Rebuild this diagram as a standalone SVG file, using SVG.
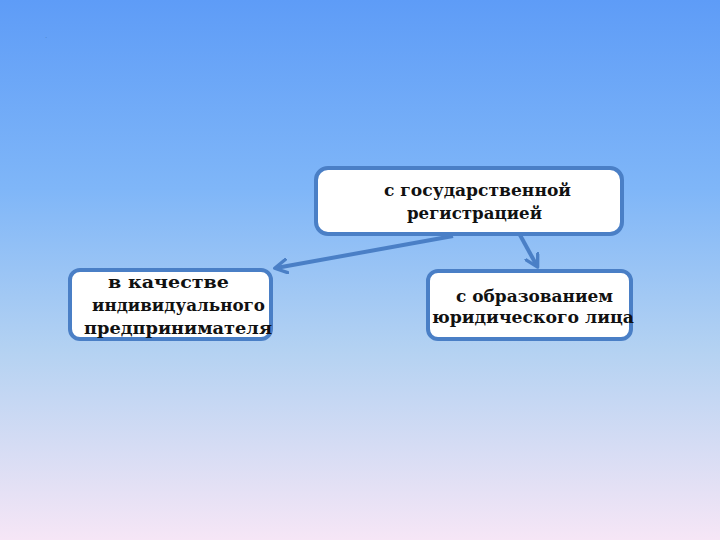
<svg xmlns="http://www.w3.org/2000/svg" width="720" height="540" viewBox="0 0 720 540">
<defs>
<linearGradient id="bg" x1="0" y1="0" x2="0" y2="1">
<stop offset="0" stop-color="#5e9cf7"/>
<stop offset="0.35" stop-color="#7fb6f8"/>
<stop offset="0.65" stop-color="#b4d2f2"/>
<stop offset="1" stop-color="#f6e6f6"/>
</linearGradient>
<marker id="ah" viewBox="0 0 12 12" refX="9" refY="6" markerWidth="4" markerHeight="4" orient="auto" markerUnits="strokeWidth">
<path d="M1,1 L10,6 L1,11" fill="none" stroke="#4a7fc6" stroke-width="2.5" stroke-linecap="round" stroke-linejoin="round"/>
</marker>
<style>
.box{fill:#ffffff;stroke:#4a7fc6;stroke-width:4}
.t{font-family:"DejaVu Serif","Liberation Serif",serif;font-weight:bold;font-size:17px;fill:#111;text-anchor:middle}
.c{stroke:#4a7fc6;stroke-width:4;fill:none}
</style>
</defs>
<rect width="720" height="540" fill="url(#bg)"/>
<text x="45" y="38" font-family="Liberation Sans, sans-serif" font-size="8" fill="#4a7fc6">.</text>
<g id="connectors">
<line class="c" x1="453" y1="236" x2="276" y2="268" marker-end="url(#ah)"/>
<line class="c" x1="520" y1="235" x2="537" y2="266" marker-end="url(#ah)"/>
</g>
<g id="node-top">
<rect class="box" x="316" y="168" width="306" height="66" rx="12"/>
<text class="t" x="477.5" y="196" textLength="187" lengthAdjust="spacingAndGlyphs">с государственной</text>
<text class="t" x="474.5" y="219" textLength="135" lengthAdjust="spacingAndGlyphs">регистрацией</text>
</g>
<g id="node-left">
<rect class="box" x="70" y="270" width="201" height="69" rx="10"/>
<text class="t" x="168.5" y="288" textLength="121" lengthAdjust="spacingAndGlyphs">в качестве</text>
<text class="t" x="178.5" y="311" textLength="173" lengthAdjust="spacingAndGlyphs">индивидуального</text>
<text class="t" x="178" y="334" textLength="188" lengthAdjust="spacingAndGlyphs">предпринимателя</text>
</g>
<g id="node-right">
<rect class="box" x="428" y="271" width="203" height="68" rx="10"/>
<text class="t" x="534.5" y="302" textLength="157" lengthAdjust="spacingAndGlyphs">с образованием</text>
<text class="t" x="533" y="323" textLength="202" lengthAdjust="spacingAndGlyphs">юридического лица</text>
</g>
</svg>
